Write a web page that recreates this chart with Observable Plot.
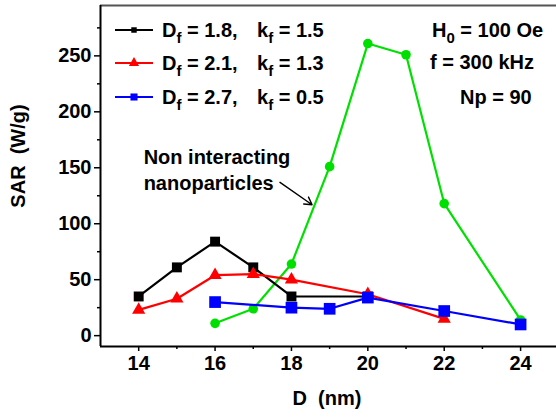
<!DOCTYPE html>
<html><head><meta charset="utf-8">
<script src="https://cdn.jsdelivr.net/npm/d3@7"></script>
<script src="https://cdn.jsdelivr.net/npm/@observablehq/plot@0.6"></script>
<style>
body{margin:0;background:#fff}
svg{font-family:"Liberation Sans",Arial,sans-serif;font-weight:bold}
</style>
</head><body><div id="chart"></div>
<script>
// Data
const dBlack = [14,15,16,17,18,20];
const sarBlack = [35,61,84,61,35,35];
const dRed = [14,15,16,17,18,20,22];
const sarRed = [23,33,54,55,50,37,15];
const dBlue = [16,18,19,20,22,24];
const sarBlue = [30,25,24,34,22,10];
const dGreen = [16,17,18,19,20,21,22,24];
const sarGreen = [11,24,64,151,261,251,118,14];
const xTicks = [14,16,18,20,22,24];
const xMinor = [15,17,19,21,23];
const yTicks = [0,50,100,150,200,250];
const yMinor = [25,75,125,175,225,275];
const legendDf = ["1.8","2.1","2.7"];
const legendKf = ["1.5","1.3","0.5"];
const legendColors = ["black","red","blue"];
const legendSymbols = ["square","triangle","square"];
const noteLines = ["Non interacting","nanoparticles"];
const noteX = [14.13], noteY = [149.5];
const arrowFrom = [17.7, 137], arrowTo = [18.54, 117];
const condH = "100 Oe", condF = "f = 300 kHz", condNp = "Np = 90";

const toRows = (xs, ys) => xs.map((x,i) => ({x, y: ys[i]}));
const black = toRows(dBlack, sarBlack), red = toRows(dRed, sarRed),
      blue = toRows(dBlue, sarBlue), green = toRows(dGreen, sarGreen);

const W = 556, H = 417;
const xDom = [13, 24.94], yDom = [-9.7, 295];
const fontSize = 20, subSize = 15;

const plot = Plot.plot({
  width: W, height: H,
  marginLeft: 100, marginTop: 5, marginRight: 0, marginBottom: 71,
  x: {domain: xDom},
  y: {domain: yDom},
  style: {fontSize: fontSize + "px", fontFamily: "Liberation Sans, Arial, sans-serif", fontWeight: "bold", background: "#fff"},
  marks: [
    Plot.axisX({ticks: xTicks, tickSize: 5, tickPadding: 4, label: null, strokeWidth: 1.5}),
    Plot.axisX({ticks: xMinor, tickSize: 3, text: null, label: null, strokeWidth: 1.5}),
    Plot.axisY({ticks: yTicks, tickSize: 6, tickPadding: 3, label: null, strokeWidth: 1.5}),
    Plot.axisY({ticks: yMinor, tickSize: 3, text: null, label: null, strokeWidth: 1.5}),
    Plot.ruleY([yDom[1]], {stroke: "#555", strokeWidth: 2}),
    Plot.ruleX([xDom[0]], {stroke: "black", strokeWidth: 2}),
    Plot.ruleY([yDom[0]], {stroke: "black", strokeWidth: 2}),
    Plot.line(green, {x: "x", y: "y", stroke: "#00e000", strokeWidth: 2.2}),
    Plot.dot(green, {x: "x", y: "y", fill: "#00e000", r: 4.8, symbol: "circle"}),
    Plot.line(black, {x: "x", y: "y", stroke: "black", strokeWidth: 2.2}),
    Plot.dot(black, {x: "x", y: "y", fill: "black", r: 5.6, symbol: "square"}),
    Plot.line(red, {x: "x", y: "y", stroke: "red", strokeWidth: 2.2}),
    Plot.dot(red, {x: "x", y: "y", fill: "red", r: 4.9, symbol: "triangle"}),
    Plot.line(blue, {x: "x", y: "y", stroke: "blue", strokeWidth: 2.2}),
    Plot.dot(blue, {x: "x", y: "y", fill: "blue", r: 6.6, symbol: "square"}),
    Plot.text([noteLines.join("\n")], {x: noteX, y: noteY, textAnchor: "start", lineHeight: 1.3, fontSize: fontSize, fill: "black"}),
    Plot.arrow([0], {x1: [arrowFrom[0]], y1: [arrowFrom[1]], x2: [arrowTo[0]], y2: [arrowTo[1]], stroke: "black", strokeWidth: 1.4, headLength: 9})
  ]
});
document.getElementById("chart").appendChild(plot);

const svg = d3.select(plot);
// Axis titles
svg.append("text").attr("transform", "translate(25,156) rotate(-90)")
  .attr("text-anchor", "middle").style("white-space", "pre").attr("font-size", fontSize)
  .text("SAR  (W/g)");
svg.append("text").attr("x", 327).attr("y", 405)
  .attr("text-anchor", "middle").style("white-space", "pre").attr("font-size", fontSize)
  .text("D  (nm)");

// Legend
const rowY = [30, 63, 97];
legendDf.forEach((df, i) => {
  const g = svg.append("g").attr("transform", `translate(0,${rowY[i]})`);
  g.append("line").attr("x1", 115).attr("x2", 153).attr("y1", 0).attr("y2", 0)
    .attr("stroke", legendColors[i]).attr("stroke-width", 2);
  const sz = legendSymbols[i] === "triangle" ? 45 : (i === 0 ? 30 : 50);
  g.append("path").attr("transform", "translate(134,0)")
    .attr("d", d3.symbol(legendSymbols[i] === "triangle" ? d3.symbolTriangle : d3.symbolSquare, sz)())
    .attr("fill", legendColors[i]);
  const t = g.append("text").attr("x", 162).attr("y", 7).attr("text-anchor", "start").attr("font-size", fontSize);
  t.append("tspan").text("D");
  t.append("tspan").attr("dy", 6).attr("font-size", subSize).text("f");
  t.append("tspan").attr("dy", -6).style("white-space", "pre").text(" = " + df + ",");
  const t2 = g.append("text").attr("x", 257).attr("y", 7).attr("text-anchor", "start").attr("font-size", fontSize);
  t2.append("tspan").text("k");
  t2.append("tspan").attr("dy", 6).attr("font-size", subSize).text("f");
  t2.append("tspan").attr("dy", -6).style("white-space", "pre").text(" = " + legendKf[i]);
});

// Conditions
const tH = svg.append("text").attr("x", 432).attr("y", 37).attr("text-anchor", "start").attr("font-size", fontSize);
tH.append("tspan").text("H");
tH.append("tspan").attr("dy", 6).attr("font-size", subSize).text("0");
tH.append("tspan").attr("dy", -6).style("white-space", "pre").text(" = " + condH);
svg.append("text").attr("x", 430).attr("y", 69).attr("text-anchor", "start").attr("font-size", fontSize).text(condF);
svg.append("text").attr("x", 460).attr("y", 104).attr("text-anchor", "start").attr("font-size", fontSize).text(condNp);
</script>
</body></html>
